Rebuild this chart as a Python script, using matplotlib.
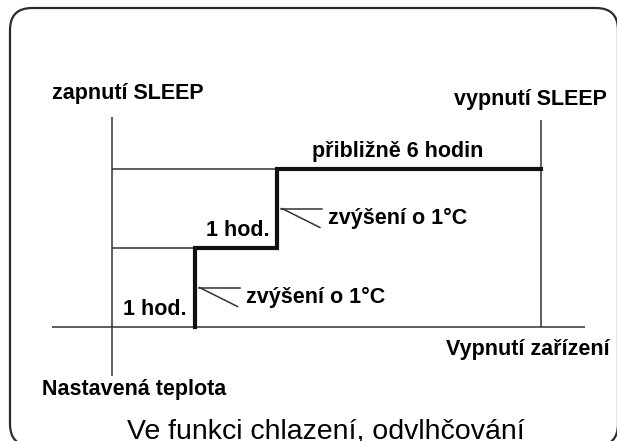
from __future__ import annotations

import matplotlib

matplotlib.use("Agg")

import matplotlib.pyplot as plt
from matplotlib.patches import FancyBboxPatch

# SLEEP profile: hours after SLEEP on, degrees above set temperature
STEP_HOURS = [1, 1, 2, 5.2]
STEP_RISE = [0, 1, 2, 2]
RISE_STARTS = [1, 2]        # hour where each +1 °C step happens
RISE_LEVELS = [1, 2]        # level reached after each step
SLEEP_ON = 0
SLEEP_OFF = 5.2

TITLE = "Ve funkci chlazení, odvlhčování"
RISE_LABEL = "zvýšení o 1°C"
HOUR_LABEL = "1 hod."

W, H = 617, 441
# pixel <-> data mapping (x: hours, y: °C)
X0, XS = 112, 82.5
Y0, YS = 327, 79


def px(x, y):
    return (x - X0) / XS, (Y0 - y) / YS


def main() -> None:
    plt.rcParams["font.family"] = ["Liberation Sans", "DejaVu Sans"]
    fig = plt.figure(figsize=(W / 100, H / 100), dpi=100)

    bg = fig.add_axes([0, 0, 1, 1])
    bg.set_xlim(0, W)
    bg.set_ylim(H, 0)
    bg.axis("off")
    frame = FancyBboxPatch((10, 8), 608, 438, boxstyle="round,pad=0,rounding_size=22",
                           facecolor="white", edgecolor="#2b2b2b", linewidth=1.6)
    bg.add_patch(frame)

    ax = fig.add_axes([0, 0, 1, 1])
    ax.patch.set_alpha(0)
    ax.set_xlim(px(0, 0)[0], px(W, 0)[0])
    ax.set_ylim(px(0, H)[1], px(0, 0)[1])
    ax.axis("off")

    thin = dict(color="#333333", linewidth=1.1)
    # axes of the diagram
    ax.hlines(0, px(52, 0)[0], px(585, 0)[0], **thin)
    ax.vlines(SLEEP_ON, px(0, 376)[1], px(0, 117)[1], **thin)
    ax.vlines(SLEEP_OFF, 0, px(0, 120)[1], **thin)
    # guide lines for each level
    ax.hlines(RISE_LEVELS, SLEEP_ON, RISE_STARTS, **thin)

    # temperature profile
    ax.step(STEP_HOURS, STEP_RISE, where="post", color="#111111", linewidth=3.0,
            solid_joinstyle="miter")

    # step callouts
    for t, lvl in zip(RISE_STARTS, RISE_LEVELS):
        base = lvl - 1
        ax.plot([t + 0.05, t + 0.55], [base + 0.5, base + 0.5], **thin)
        ax.plot([t + 0.06, t + 0.52], [base + 0.5, base + 0.26], **thin)
        ax.text(t + 0.62, base + 0.37, RISE_LABEL, fontsize=15.5, fontweight="bold",
                ha="left", va="center")
        ax.text(t - 0.48, base + 0.15, HOUR_LABEL, fontsize=15.5, fontweight="bold",
                ha="center", va="baseline")

    bold = dict(fontsize=15.5, fontweight="bold", va="baseline")
    ax.text(*px(128, 99), "zapnutí SLEEP", ha="center", **bold)
    ax.text(*px(530, 105), "vypnutí SLEEP", ha="center", **bold)
    ax.text(*px(398, 157), "přibližně 6 hodin", ha="center", **bold)
    ax.text(*px(610, 355), "Vypnutí zařízení", ha="right", **bold)
    ax.text(*px(42, 395), "Nastavená teplota", ha="left", **bold)
    ax.text(*px(326, 438), TITLE, ha="center", va="baseline", fontsize=20.5)

    fig.savefig("out.png", dpi=100)
    plt.close(fig)


if __name__ == "__main__":
    main()
